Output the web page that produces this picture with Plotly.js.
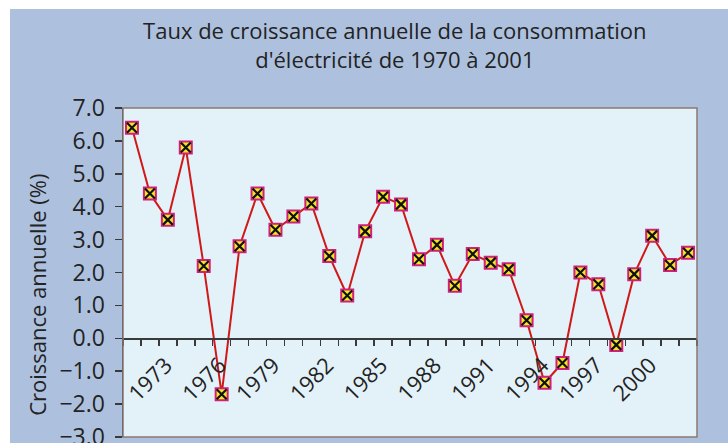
<!DOCTYPE html>
<html>
<head>
<meta charset="utf-8">
<script src="https://cdn.plot.ly/plotly-3.0.1.min.js"></script>
<style>
  html, body { margin: 0; padding: 0; background: #ffffff; width: 728px; height: 443px; overflow: hidden; }
  #chart { position: absolute; left: 10px; top: 9px; width: 718px; height: 434px; }
</style>
</head>
<body>
<div id="chart"></div>
<script>
const years = [1970,1971,1972,1973,1974,1975,1976,1977,1978,1979,1980,1981,1982,1983,1984,1985,
               1986,1987,1988,1989,1990,1991,1992,1993,1994,1995,1996,1997,1998,1999,2000,2001];
const growth = [6.4,4.4,3.6,5.8,2.2,-1.7,2.8,4.4,3.3,3.7,4.1,2.5,1.3,3.25,4.3,4.07,
                2.4,2.84,1.6,2.56,2.3,2.1,0.55,-1.35,-0.75,2.0,1.64,-0.2,1.95,3.12,2.23,2.6];
const tickYears = [1973,1976,1979,1982,1985,1988,1991,1994,1997,2000];
const tickLabels = ["1973","1976","1979","1982","1985","1988","1991","1994","1997","2000"];
const titleText = "Taux de croissance annuelle de la consommation<br>d'électricité de 1970 à 2001";
const yTitle = "Croissance annuelle (%)";

const FONT = "Open Sans, Noto Sans, sans-serif";
const TXT = "#232323";

const traces = [
  {
    x: years, y: growth, type: "scatter", mode: "lines+markers",
    line: { color: "#d01818", width: 2 },
    marker: { symbol: "square", size: 12, color: "#f4e620", line: { color: "#d0207a", width: 2 } },
    hoverinfo: "x+y"
  },
  {
    x: years, y: growth, type: "scatter", mode: "markers",
    marker: { symbol: "x-thin", size: 10, color: "#111111", line: { color: "#111111", width: 2.2 } },
    hoverinfo: "skip"
  }
];

const layout = {
  width: 718, height: 434,
  margin: { l: 113, r: 31, t: 99, b: 6, pad: 0 },
  paper_bgcolor: "#adc1de",
  plot_bgcolor: "#e3f2f9",
  showlegend: false,
  font: { family: FONT, color: TXT, size: 21 },
  title: {
    text: titleText,
    font: { family: FONT, size: 22, color: TXT },
    x: 0.536, xref: "container", xanchor: "center",
    y: 0.93, yref: "container", yanchor: "top"
  },
  xaxis: {
    range: [1969.5, 2001.5],
    anchor: "free", position: 0.3,
    showgrid: false, zeroline: false,
    showline: true, linecolor: "#3a3a3a", linewidth: 1.5,
    tickmode: "array", tickvals: tickYears, ticktext: tickLabels,
    ticks: "", tickangle: -45,
    tickfont: { family: FONT, size: 22, color: TXT },
    ticklabelshift: -20,
    ticklabelstandoff: 4,
    minor: { tickmode: "linear", tick0: 1969.5, dtick: 1, ticks: "outside", ticklen: 6, tickwidth: 1.5, tickcolor: "#3a3a3a", showgrid: false }
  },
  yaxis: {
    range: [-3, 7], dtick: 1, tick0: 0, tickformat: ".1f",
    showgrid: false, zeroline: false,
    showline: true, linecolor: "#3a3a3a", linewidth: 1.5,
    ticks: "outside", ticklen: 7, tickwidth: 1.5, tickcolor: "#3a3a3a",
    tickfont: { family: FONT, size: 23, color: TXT },
    ticklabelstandoff: 5,
    ticklabeloverflow: "allow"
  },
  shapes: [
    { type: "rect", xref: "paper", yref: "paper", x0: 0, x1: 1, y0: 0, y1: 1,
      line: { color: "#8a7a74", width: 1.5 }, layer: "above" }
  ],
  annotations: [
    { text: yTitle, textangle: -90, xref: "paper", yref: "paper", x: 0, y: 0.432,
      xanchor: "center", yanchor: "middle", xshift: -86, showarrow: false,
      font: { family: FONT, size: 22, color: TXT } }
  ]
};

Plotly.newPlot("chart", traces, layout, { displayModeBar: false, staticPlot: true });
</script>
</body>
</html>
